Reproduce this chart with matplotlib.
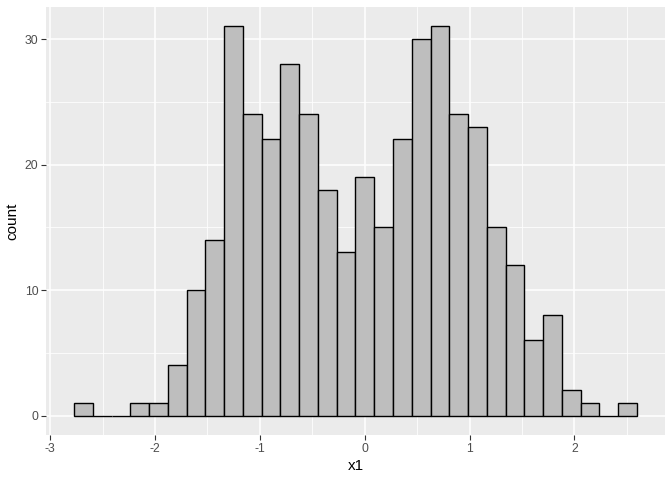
import matplotlib
matplotlib.use("Agg")
import matplotlib.pyplot as plt
import numpy as np

counts = [1, 0, 0, 1, 1, 4, 10, 14, 31, 24, 22, 28, 24, 18, 13, 19, 15, 22,
          30, 31, 24, 23, 15, 12, 6, 8, 2, 1, 0, 1]
bin_start = -2.771
bin_width = 0.1789
x_ticks = [-3, -2, -1, 0, 1, 2]
y_ticks = [0, 10, 20, 30]
x_label = "x1"
y_label = "count"

plt.rcParams['font.family'] = ['Liberation Sans', 'DejaVu Sans']

fig = plt.figure(figsize=(6.72, 4.8), dpi=100)
ax = fig.add_axes([46/672, 1-435/480, (665-46)/672, (435-7)/480])
ax.set_facecolor('#EBEBEB')

edges = bin_start + bin_width*np.arange(len(counts))
ax.bar(edges, counts, width=bin_width, align='edge', color='#BEBEBE',
       edgecolor='black', linewidth=1.0, zorder=3)

xmin = bin_start
xmax = bin_start + bin_width*len(counts)
xr = xmax - xmin
ax.set_xlim(xmin - 0.05*xr, xmax + 0.05*xr)
ymax = max(counts)
ax.set_ylim(-0.05*ymax, ymax*1.05)

ax.set_xticks(x_ticks)
ax.set_xticklabels([str(t) for t in x_ticks])
ax.set_yticks(y_ticks)
ax.set_yticklabels([str(t) for t in y_ticks])
ax.set_xticks([t + 0.5 for t in range(-3, 3)], minor=True)
ax.set_yticks([5, 15, 25], minor=True)

ax.grid(True, which='major', color='white', linewidth=1.1, zorder=0)
ax.grid(True, which='minor', color='white', linewidth=0.55, zorder=0)
ax.set_axisbelow(True)
for s in ax.spines.values():
    s.set_visible(False)
ax.tick_params(which='major', length=3.5, width=0.8, color='#333333',
               labelcolor='#4D4D4D', labelsize=8.8, pad=2)
ax.tick_params(which='minor', length=0)
ax.set_xlabel(x_label, fontsize=11, color='black', labelpad=3)
ax.set_ylabel(y_label, fontsize=11, color='black', labelpad=4)

fig.savefig("out.png", dpi=100)
